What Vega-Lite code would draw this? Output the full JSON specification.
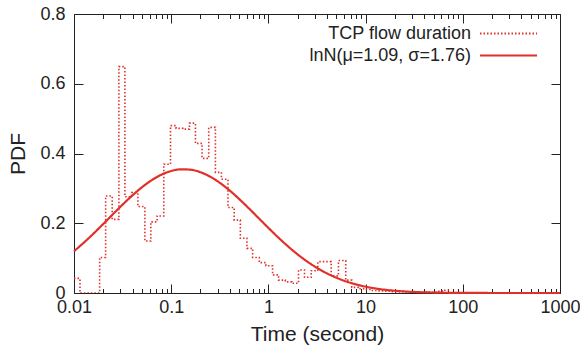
{
  "$schema": "https://vega.github.io/schema/vega-lite/v6.json",
  "width": 486,
  "height": 279,
  "autosize": {"type": "none"},
  "padding": {"left": 74, "top": 14, "right": 20, "bottom": 58},
  "background": "white",
  "config": {
    "font": "Liberation Sans",
    "view": {"stroke": null},
    "axis": {
      "labelFont": "Liberation Sans",
      "titleFont": "Liberation Sans",
      "labelFontSize": 18,
      "titleFontSize": 21,
      "labelColor": "#222222",
      "titleColor": "#222222",
      "titleFontWeight": "normal",
      "domainColor": "#222222",
      "tickColor": "#222222",
      "grid": false
    },
    "legend": {
      "labelFont": "Liberation Sans",
      "labelFontSize": 18,
      "labelColor": "#222222",
      "labelLimit": 400
    }
  },
  "datasets": {
    "hist": [
      {"t": 0.01, "pdf": 0.042},
      {"t": 0.01152, "pdf": 0},
      {"t": 0.01836, "pdf": 0.102},
      {"t": 0.02116, "pdf": 0.278},
      {"t": 0.02472, "pdf": 0.211},
      {"t": 0.02897, "pdf": 0.649},
      {"t": 0.0334, "pdf": 0.276},
      {"t": 0.03912, "pdf": 0.288},
      {"t": 0.04541, "pdf": 0.248},
      {"t": 0.05358, "pdf": 0.149},
      {"t": 0.06174, "pdf": 0.204},
      {"t": 0.07164, "pdf": 0.221},
      {"t": 0.08395, "pdf": 0.369},
      {"t": 0.09836, "pdf": 0.48},
      {"t": 0.1123, "pdf": 0.472},
      {"t": 0.1315, "pdf": 0.47},
      {"t": 0.1541, "pdf": 0.487},
      {"t": 0.1776, "pdf": 0.429},
      {"t": 0.2076, "pdf": 0.386},
      {"t": 0.2432, "pdf": 0.475},
      {"t": 0.285, "pdf": 0.346},
      {"t": 0.3284, "pdf": 0.326},
      {"t": 0.3838, "pdf": 0.245},
      {"t": 0.4445, "pdf": 0.209},
      {"t": 0.5146, "pdf": 0.157},
      {"t": 0.6015, "pdf": 0.128},
      {"t": 0.6885, "pdf": 0.102},
      {"t": 0.8065, "pdf": 0.087},
      {"t": 0.9426, "pdf": 0.078},
      {"t": 1.1043, "pdf": 0.052},
      {"t": 1.2725, "pdf": 0.037},
      {"t": 1.491, "pdf": 0.032},
      {"t": 1.7428, "pdf": 0.028},
      {"t": 2.0424, "pdf": 0.066},
      {"t": 2.353, "pdf": 0.045},
      {"t": 2.7572, "pdf": 0.064},
      {"t": 3.2229, "pdf": 0.09},
      {"t": 4.4239, "pdf": 0.049},
      {"t": 5.2564, "pdf": 0.093},
      {"t": 6.2473, "pdf": 0.037},
      {"t": 7.1994, "pdf": 0.016},
      {"t": 8.4383, "pdf": 0.012},
      {"t": 9.7207, "pdf": 0.01},
      {"t": 11.471, "pdf": 0.007},
      {"t": 13.218, "pdf": 0.006},
      {"t": 15.596, "pdf": 0.005},
      {"t": 17.969, "pdf": 0.004},
      {"t": 21.21, "pdf": 0.004},
      {"t": 24.441, "pdf": 0.003},
      {"t": 28.84, "pdf": 0.003},
      {"t": 33.231, "pdf": 0.002},
      {"t": 39.213, "pdf": 0.003},
      {"t": 45.186, "pdf": 0.002},
      {"t": 53.335, "pdf": 0.005},
      {"t": 61.443, "pdf": 0.008},
      {"t": 72.52, "pdf": 0}
    ],
    "fit": [
      {"t": 0.01, "pdf": 0.1199},
      {"t": 0.012589, "pdf": 0.1441},
      {"t": 0.015849, "pdf": 0.1702},
      {"t": 0.019953, "pdf": 0.1977},
      {"t": 0.025119, "pdf": 0.2257},
      {"t": 0.031623, "pdf": 0.2534},
      {"t": 0.039811, "pdf": 0.2796},
      {"t": 0.050119, "pdf": 0.3034},
      {"t": 0.063096, "pdf": 0.3236},
      {"t": 0.079433, "pdf": 0.3394},
      {"t": 0.1, "pdf": 0.3499},
      {"t": 0.12589, "pdf": 0.3547},
      {"t": 0.15849, "pdf": 0.3535},
      {"t": 0.19953, "pdf": 0.3464},
      {"t": 0.25119, "pdf": 0.3337},
      {"t": 0.31623, "pdf": 0.316},
      {"t": 0.39811, "pdf": 0.2943},
      {"t": 0.50119, "pdf": 0.2693},
      {"t": 0.63096, "pdf": 0.2424},
      {"t": 0.79433, "pdf": 0.2145},
      {"t": 1, "pdf": 0.1866},
      {"t": 1.2589, "pdf": 0.1596},
      {"t": 1.5849, "pdf": 0.1342},
      {"t": 1.9953, "pdf": 0.1109},
      {"t": 2.5119, "pdf": 0.0901},
      {"t": 3.1623, "pdf": 0.072},
      {"t": 3.9811, "pdf": 0.0566},
      {"t": 5.0119, "pdf": 0.0437},
      {"t": 6.3096, "pdf": 0.0332},
      {"t": 7.9433, "pdf": 0.0248},
      {"t": 10, "pdf": 0.0182},
      {"t": 12.589, "pdf": 0.0131},
      {"t": 15.849, "pdf": 0.0093},
      {"t": 19.953, "pdf": 0.0065},
      {"t": 25.119, "pdf": 0.0045},
      {"t": 31.623, "pdf": 0.003},
      {"t": 39.811, "pdf": 0.002},
      {"t": 50.119, "pdf": 0.0013},
      {"t": 63.096, "pdf": 0.0008},
      {"t": 79.433, "pdf": 0.0005},
      {"t": 100, "pdf": 0.0003},
      {"t": 158.49, "pdf": 0.0001},
      {"t": 316.23, "pdf": 0.00002},
      {"t": 1000, "pdf": 0}
    ]
  },
  "resolve": {"axis": {"x": "independent", "y": "independent"}},
  "layer": [
    {
      "data": {"name": "hist"},
      "mark": {"type": "line", "interpolate": "step-after", "strokeWidth": 1.6, "clip": true},
      "encoding": {
        "x": {
          "field": "t", "type": "quantitative",
          "scale": {"type": "log", "domain": [0.01, 1000]},
          "axis": {
            "orient": "bottom", "title": "Time (second)", "values": [0.01, 0.1, 1, 10, 100, 1000],
            "format": "~g", "tickSize": -9, "labelPadding": 14, "titlePadding": 7, "labelFlush": false, "labelOverlap": false
          }
        },
        "y": {
          "field": "pdf", "type": "quantitative",
          "scale": {"domain": [0, 0.8]},
          "axis": {
            "orient": "left", "title": "PDF", "values": [0, 0.2, 0.4, 0.6, 0.8],
            "format": "~g", "tickSize": -9, "labelPadding": 18, "titlePadding": 11
          }
        },
        "color": {
          "datum": "TCP flow duration",
          "scale": {"domain": ["TCP flow duration", "lnN(μ=1.09, σ=1.76)"], "range": ["#e0302a", "#e0302a"]},
          "legend": {
            "title": null, "orient": "none", "legendX": 424, "legendY": 9, "padding": 0,
            "symbolType": "M-3,0H3", "symbolSize": 361, "symbolStrokeWidth": 1.8,
            "labelAlign": "right", "labelOffset": -48, "rowPadding": 2
          }
        },
        "strokeDash": {
          "datum": "TCP flow duration",
          "scale": {"domain": ["TCP flow duration", "lnN(μ=1.09, σ=1.76)"], "range": [[1.5, 2], [1, 0]]}
        }
      }
    },
    {
      "data": {"name": "fit"},
      "mark": {"type": "line", "interpolate": "monotone", "strokeWidth": 2.2},
      "encoding": {
        "x": {
          "field": "t", "type": "quantitative",
          "scale": {"type": "log", "domain": [0.01, 1000]},
          "axis": {
            "orient": "bottom", "title": null, "labels": false, "domain": false, "tickSize": -4.5,
            "values": [0.02, 0.03, 0.04, 0.05, 0.06, 0.07, 0.08, 0.09, 0.2, 0.3, 0.4, 0.5, 0.6, 0.7, 0.8, 0.9, 2, 3, 4, 5, 6, 7, 8, 9, 20, 30, 40, 50, 60, 70, 80, 90, 200, 300, 400, 500, 600, 700, 800, 900]
          }
        },
        "y": {
          "field": "pdf", "type": "quantitative",
          "scale": {"domain": [0, 0.8]},
          "axis": {"orient": "right", "title": null, "labels": false, "tickSize": -9, "values": [0, 0.2, 0.4, 0.6, 0.8]}
        },
        "color": {"datum": "lnN(μ=1.09, σ=1.76)"},
        "strokeDash": {"datum": "lnN(μ=1.09, σ=1.76)"}
      }
    },
    {
      "data": {"name": "fit"},
      "mark": {"type": "point", "opacity": 0},
      "encoding": {
        "x": {
          "field": "t", "type": "quantitative",
          "scale": {"type": "log", "domain": [0.01, 1000]},
          "axis": {"orient": "top", "title": null, "labels": false, "tickSize": -9, "values": [0.01, 0.1, 1, 10, 100, 1000]}
        },
        "y": {"field": "pdf", "type": "quantitative", "scale": {"domain": [0, 0.8]}, "axis": null}
      }
    },
    {
      "data": {"name": "fit"},
      "mark": {"type": "point", "opacity": 0},
      "encoding": {
        "x": {
          "field": "t", "type": "quantitative",
          "scale": {"type": "log", "domain": [0.01, 1000]},
          "axis": {
            "orient": "top", "title": null, "labels": false, "domain": false, "tickSize": -4.5,
            "values": [0.02, 0.03, 0.04, 0.05, 0.06, 0.07, 0.08, 0.09, 0.2, 0.3, 0.4, 0.5, 0.6, 0.7, 0.8, 0.9, 2, 3, 4, 5, 6, 7, 8, 9, 20, 30, 40, 50, 60, 70, 80, 90, 200, 300, 400, 500, 600, 700, 800, 900]
          }
        },
        "y": {"field": "pdf", "type": "quantitative", "scale": {"domain": [0, 0.8]}, "axis": null}
      }
    }
  ]
}
